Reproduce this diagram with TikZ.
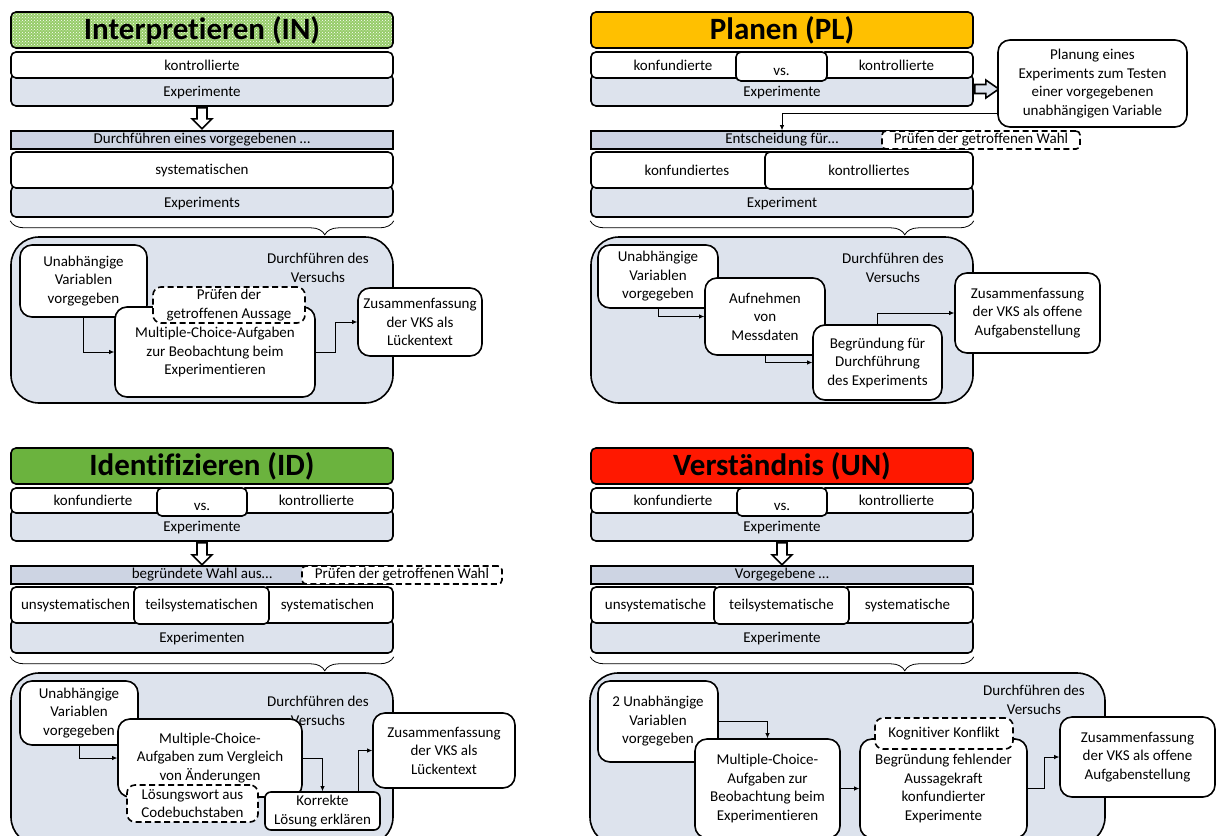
\documentclass[tikz,border=0pt]{standalone}
\usepackage{fontspec}
\setmainfont{Carlito}[Ligatures=NoCommon]
\usetikzlibrary{arrows.meta, calc, decorations.pathreplacing, patterns}

\definecolor{boxgray}{RGB}{221,227,237}
\definecolor{bargray}{RGB}{205,212,227}
\definecolor{ingreen}{RGB}{150,204,105}
\definecolor{plorange}{RGB}{255,192,0}
\definecolor{idgreen}{RGB}{107,179,62}
\definecolor{unred}{RGB}{255,24,0}

\begin{document}
\begin{tikzpicture}[
  x=1pt, y=-1pt,
  font=\fontsize{15}{18.5}\selectfont,
  box/.style={draw, line width=1.6pt, rounded corners=5pt, inner sep=0pt, align=center},
  title/.style={box, font=\fontsize{31}{33}\selectfont\bfseries, minimum width=382, minimum height=36},
  row/.style={box, fill=white},
  base/.style={box, fill=boxgray, text height=16pt, text depth=3.5pt},
  vsbox/.style={text height=17pt, text depth=0pt},
  bar/.style={draw, line width=1.6pt, fill=bargray, minimum width=382, minimum height=18, inner sep=0pt},
  chk/.style={box, fill=white, dash pattern=on 6pt off 3.5pt, rounded corners=4pt},
  frame/.style={draw, line width=1.6pt, fill=boxgray, rounded corners=28pt},
  task/.style={draw, line width=1.6pt, fill=white, rounded corners=12pt, align=center, inner sep=0pt},
  arr/.style={-{Latex[length=5pt,width=4.5pt]}, line width=0.8pt},
  hollow/.style={draw, line width=1.6pt, fill=white, line join=miter},
  brc/.style={decorate, decoration={brace, mirror, amplitude=14pt, aspect=0.82}, line width=0.8pt}
]
\clip (0,0) rectangle (1222,835);

% ================= INTERPRETIEREN =================
\node[title, preaction={fill=ingreen}, pattern=crosshatch dots, pattern color=white] (inTitle) at (202,30) {Interpretieren (IN)};
\node[base, minimum width=382, minimum height=32] (inExp) at (202,90) {Experimente};
\node[row, minimum width=382, minimum height=26] (inCtrl) at (202,65) {kontrollierte};
\draw[hollow] ($(inExp.south)+(-5,1)$) -- ++(10,0) -- ++(0,11) -- ++(5,0) -- ++(-10,10) -- ++(-10,-10) -- ++(5,0) -- cycle;
\node[bar] (inBar) at (202,140) {Durchführen eines vorgegebenen …};
\node[base, minimum width=382, minimum height=31] (inExp2) at (202,201.5) {Experiments};
\node[row, minimum width=382, minimum height=36] (inSys) at (202,170) {systematischen};
\draw[brc] ($(inExp2.south west)+(0,3)$) -- ($(inExp2.south east)+(0,3)$);

\node[frame, minimum width=382, minimum height=166] (inFrame) at (202,320) {};
\node[align=center] (inRun) at (318,268) {Durchführen des\\Versuchs};
\node[task, minimum width=127, minimum height=72] (inVar) at (83.5,281) {Unabhängige\\Variablen\\vorgegeben};
\node[task, minimum width=200, minimum height=90] (inMC) at (215,352) {Multiple-Choice-Aufgaben\\zur Beobachtung beim\\Experimentieren};
\node[chk, minimum width=152, minimum height=36, rounded corners=8pt] (inCheck) at (229,305) {Prüfen der\\getroffenen Aussage};
\node[task, minimum width=124, minimum height=68] (inSum) at (420,322) {Zusammenfassung\\der VKS als\\Lückentext};
\draw[arr] (inVar.south) |- (inMC.west);
\draw[arr] (inMC.east) -- ++(20,0) |- (inSum.west);

% ================= PLANEN =================
\node[title, fill=plorange] (plTitle) at (782,30) {Planen (PL)};
\node[base, minimum width=382, minimum height=32] (plExp) at (782,90) {Experimente};
\node[row, minimum width=164, minimum height=26] (plConf) at (673,65) {konfundierte};
\node[row, minimum width=153, minimum height=26] (plCtrl) at (896.5,65) {kontrollierte};
\node[row, vsbox, minimum width=91, minimum height=29] (plVs) at (781.5,66.5) {vs.};
\draw[hollow, fill=boxgray] ($(plExp.east)+(1,-5.5)$) -- ++(11,0) -- ++(0,-4.5) -- ++(13,9) -- ++(-13,9) -- ++(0,-4.5) -- ++(-11,0) -- cycle;
\node[task, minimum width=189, minimum height=87] (plPlan) at (1092.5,83.5) {Planung eines\\Experiments zum Testen\\einer vorgegebenen\\unabhängigen Variable};
\node[bar] (plBar) at (782,140) {Entscheidung für…};
\node[chk, minimum width=198, minimum height=18] (plCheck) at (981,140) {Prüfen der getroffenen Wahl};
\node[base, minimum width=382, minimum height=31] (plExp2) at (782,201.5) {Experiment};
\node[row, minimum width=192, minimum height=36] (plConf2) at (687,170) {konfundiertes};
\node[row, minimum width=208, minimum height=37] (plCtrl2) at (869,170.5) {kontrolliertes};
\draw[brc] ($(plExp2.south west)+(0,3)$) -- ($(plExp2.south east)+(0,3)$);
\coordinate (plOut) at ($(plPlan.south west)+(0,-14)$);
\draw[arr] (plOut) -| (plBar.north);

\node[frame, minimum width=382, minimum height=166] (plFrame) at (782,320) {};
\node[align=center] (plRun) at (893,268) {Durchführen des\\Versuchs};
\node[task, minimum width=120, minimum height=63] (plVar) at (658,276.5) {Unabhängige\\Variablen\\vorgegeben};
\node[task, minimum width=120, minimum height=77] (plMess) at (765,316.5) {Aufnehmen\\von\\Messdaten};
\node[task, minimum width=129, minimum height=75] (plReason) at (877.5,362.5) {Begründung für\\Durchführung\\des Experiments};
\node[task, minimum width=145, minimum height=80] (plSum) at (1027.5,313) {Zusammenfassung\\der VKS als offene\\Aufgabenstellung};
\draw[arr] (plVar.south) |- (plMess.west);
\draw[arr] (plMess.south) |- (plReason.west);
\draw[arr] (plReason.north) |- (plSum.west);

% ================= IDENTIFIZIEREN =================
\node[title, fill=idgreen] (idTitle) at (202,466) {Identifizieren (ID)};
\node[base, minimum width=382, minimum height=32] (idExp) at (202,525) {Experimente};
\node[row, minimum width=164, minimum height=25] (idConf) at (93,500.5) {konfundierte};
\node[row, minimum width=153, minimum height=25] (idCtrl) at (316.5,500.5) {kontrollierte};
\node[row, vsbox, minimum width=90, minimum height=28] (idVs) at (202,502) {vs.};
\draw[hollow] ($(idExp.south)+(-5,1)$) -- ++(10,0) -- ++(0,12) -- ++(5,0) -- ++(-10,10) -- ++(-10,-10) -- ++(5,0) -- cycle;
\node[bar] (idBar) at (202,575) {begründete Wahl aus…};
\node[chk, minimum width=200, minimum height=18] (idCheck) at (402,575) {Prüfen der getroffenen Wahl};
\node[base, minimum width=382, minimum height=34] (idExp2) at (202,636) {Experimenten};
\node[row, minimum width=129, minimum height=36] (idUns) at (75.5,605) {unsystematischen};
\node[row, minimum width=131, minimum height=36] (idSys) at (327.5,605) {systematischen};
\node[row, minimum width=135, minimum height=37] (idPart) at (201.5,605.5) {teilsystematischen};
\draw[brc] ($(idExp2.south west)+(0,3)$) -- ($(idExp2.south east)+(0,3)$);

\node[frame, minimum width=382, minimum height=172] (idFrame) at (202,759) {};
\node[align=center] (idRun) at (318,711) {Durchführen des\\Versuchs};
\node[task, minimum width=118, minimum height=64] (idVar) at (79,713) {Unabhängige\\Variablen\\vorgegeben};
\node[task, minimum width=184, minimum height=78] (idMC) at (210,758) {Multiple-Choice-\\Aufgaben zum Vergleich\\von Änderungen};
\node[chk, minimum width=131, minimum height=37, rounded corners=8pt] (idCode) at (192.5,803.5) {Lösungswort aus\\Codebuchstaben};
\node[task, minimum width=115, minimum height=38, rounded corners=6pt] (idSolve) at (322.5,811) {Korrekte\\Lösung erklären};
\node[task, minimum width=142, minimum height=75] (idSum) at (444,750.5) {Zusammenfassung\\der VKS als\\Lückentext};
\draw[arr] (idVar.south) |- (idMC.west);
\draw[arr] (idMC.east) -| (idSolve.north);
\draw[arr] ($(idSolve.north east)+(-22,0)$) |- (idSum.west);

% ================= VERSTAENDNIS =================
\node[title, fill=unred] (unTitle) at (782,466) {Verständnis (UN)};
\node[base, minimum width=382, minimum height=32] (unExp) at (782,525) {Experimente};
\node[row, minimum width=164, minimum height=25] (unConf) at (673,500.5) {konfundierte};
\node[row, minimum width=153, minimum height=25] (unCtrl) at (896.5,500.5) {kontrollierte};
\node[row, vsbox, minimum width=90, minimum height=28] (unVs) at (782,502) {vs.};
\draw[hollow] ($(unExp.south)+(-5,1)$) -- ++(10,0) -- ++(0,12) -- ++(5,0) -- ++(-10,10) -- ++(-10,-10) -- ++(5,0) -- cycle;
\node[bar] (unBar) at (782,575) {Vorgegebene …};
\node[base, minimum width=382, minimum height=34] (unExp2) at (782,636) {Experimente};
\node[row, minimum width=129, minimum height=36] (unUns) at (655.5,605) {unsystematische};
\node[row, minimum width=131, minimum height=36] (unSys) at (907.5,605) {systematische};
\node[row, minimum width=135, minimum height=37] (unPart) at (781.5,605.5) {teilsystematische};
\draw[brc] ($(unExp2.south west)+(0,3)$) -- ($(unExp2.south east)+(0,3)$);

\node[frame, minimum width=515, minimum height=172] (unFrame) at (847.5,759) {};
\node[align=center] (unRun) at (1034,700) {Durchführen des\\Versuchs};
\node[task, minimum width=120, minimum height=81] (unVar) at (658,721.5) {2 Unabhängige\\Variablen\\vorgegeben};
\node[task, minimum width=145, minimum height=99] (unMC) at (767.5,788.5) {Multiple-Choice-\\Aufgaben zur\\Beobachtung beim\\Experimentieren};
\node[task, minimum width=167, minimum height=99] (unReason) at (943.5,788.5) {Begründung fehlender\\Aussagekraft\\konfundierter\\Experimente};
\node[chk, minimum width=138, minimum height=31, rounded corners=8pt] (unConflict) at (944,733.5) {Kognitiver Konflikt};
\node[task, minimum width=155, minimum height=80] (unSum) at (1137.5,757) {Zusammenfassung\\der VKS als offene\\Aufgabenstellung};
\draw[arr] (unVar.east) -| (unMC.north);
\draw[arr] (unMC.east) -- (unReason.west);
\draw[arr] (unReason.east) -- ++(17,0) |- (unSum.west);
\end{tikzpicture}
\end{document}
